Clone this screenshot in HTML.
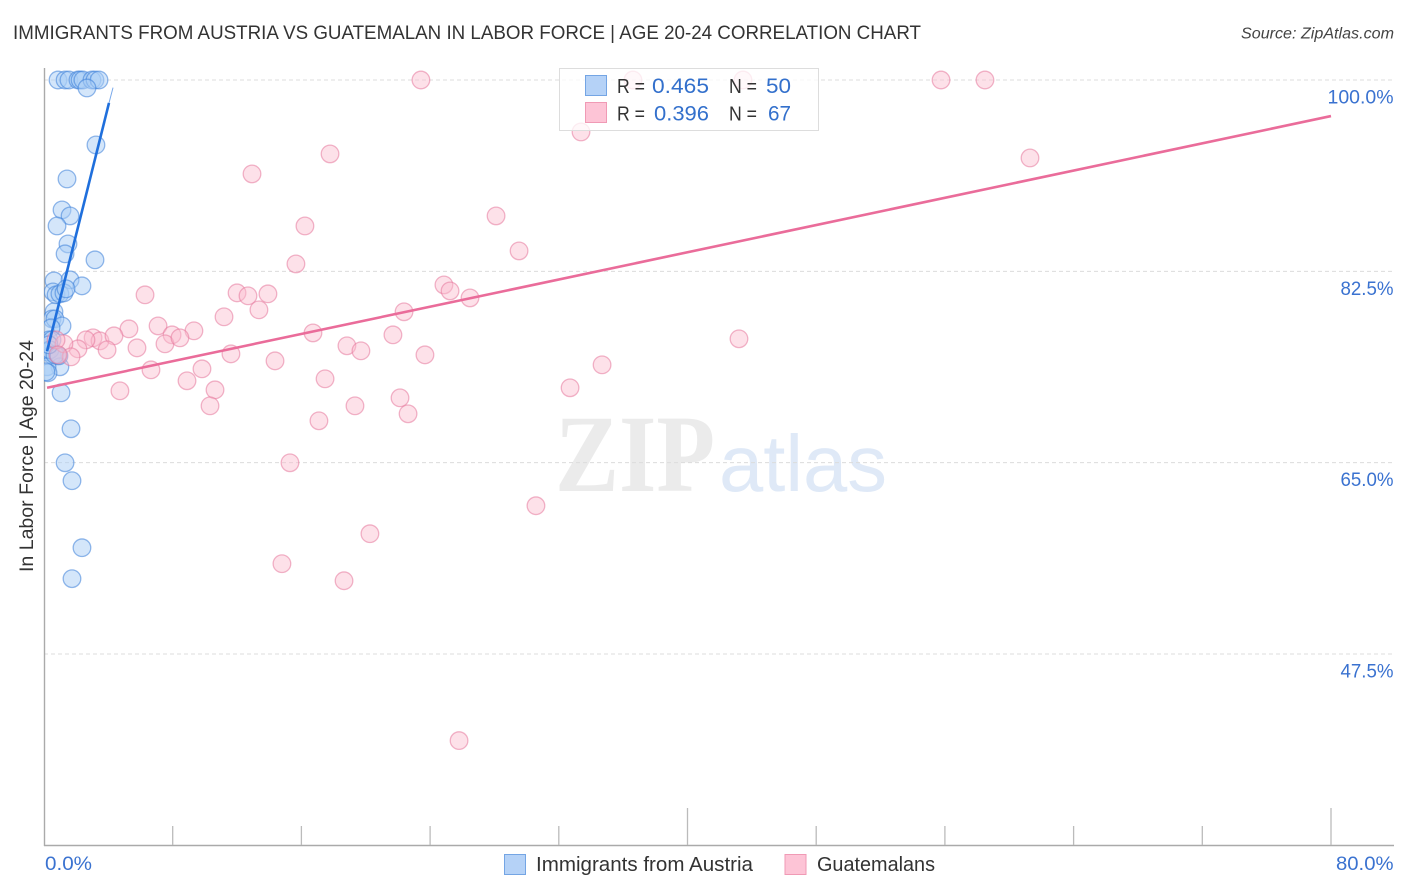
<!DOCTYPE html>
<html lang="en">
<head>
<meta charset="utf-8">
<title>Immigrants from Austria vs Guatemalan in Labor Force Correlation Chart</title>
<style>
html,body{margin:0;padding:0;background:#fff;width:1406px;height:892px;overflow:hidden}
svg{display:block}
text{font-family:"Liberation Sans",sans-serif}
</style>
</head>
<body>
<svg id="chart" xmlns="http://www.w3.org/2000/svg" width="1406" height="892" viewBox="0 0 1406 892">
  <defs><clipPath id="plot-clip"><rect x="44" y="60" width="1350" height="786"/></clipPath></defs>
  <text x="13" y="39" font-size="19.5" fill="#333" textLength="908" lengthAdjust="spacingAndGlyphs">IMMIGRANTS FROM AUSTRIA VS GUATEMALAN IN LABOR FORCE | AGE 20-24 CORRELATION CHART</text>
  <text x="1241" y="38.5" font-size="15.5" font-style="italic" fill="#444" textLength="153" lengthAdjust="spacingAndGlyphs">Source: ZipAtlas.com</text>
  <g>
    <text x="555" y="491" font-size="110" font-weight="bold" fill="#ebebeb" textLength="160" lengthAdjust="spacingAndGlyphs" style="font-family:'Liberation Serif',serif">ZIP</text>
    <text x="719" y="491" font-size="80" fill="#dfe9f7" textLength="168" lengthAdjust="spacingAndGlyphs">atlas</text>
  </g>
  <g id="grid"></g>
  <g id="axes"></g>
  <g id="blue-points" clip-path="url(#plot-clip)"></g>
  <g id="pink-points" clip-path="url(#plot-clip)"></g>
  <g id="trends"></g>
  <g id="ylabels"></g>
  <g id="xlabels"></g>
  <text transform="translate(33,456) rotate(-90)" text-anchor="middle" font-size="19" fill="#333" textLength="232" lengthAdjust="spacingAndGlyphs">In Labor Force | Age 20-24</text>

  <g>
    <rect x="559.5" y="68.5" width="259" height="62" fill="#fff" fill-opacity="0.76" stroke="#ddd" stroke-width="1"/>
    <rect x="585.5" y="75.5" width="21" height="20" fill="#b5d2f7" stroke="#74a5e4" stroke-width="1"/>
    <rect x="585.5" y="102.5" width="21" height="20" fill="#fdc4d6" stroke="#f09ab5" stroke-width="1"/>
    <text x="617" y="93" font-size="20" fill="#333" textLength="28" lengthAdjust="spacingAndGlyphs">R =</text>
    <text x="652" y="93" font-size="21" fill="#3370cc" textLength="57" lengthAdjust="spacingAndGlyphs">0.465</text>
    <text x="729" y="93" font-size="20" fill="#333" textLength="28" lengthAdjust="spacingAndGlyphs">N =</text>
    <text x="766" y="93" font-size="21" fill="#3370cc" textLength="25" lengthAdjust="spacingAndGlyphs">50</text>
    <text x="617" y="120.5" font-size="20" fill="#333" textLength="28" lengthAdjust="spacingAndGlyphs">R =</text>
    <text x="654" y="120.5" font-size="21" fill="#3370cc" textLength="55" lengthAdjust="spacingAndGlyphs">0.396</text>
    <text x="729" y="120.5" font-size="20" fill="#333" textLength="28" lengthAdjust="spacingAndGlyphs">N =</text>
    <text x="768" y="120.5" font-size="21" fill="#3370cc" textLength="23" lengthAdjust="spacingAndGlyphs">67</text>
  </g>

  <g>
    <rect x="504.5" y="854.5" width="21" height="20" fill="#b5d2f7" stroke="#74a5e4" stroke-width="1"/>
    <text x="536" y="871" font-size="20" fill="#333" textLength="217" lengthAdjust="spacingAndGlyphs">Immigrants from Austria</text>
    <rect x="785" y="854.5" width="21" height="20" fill="#fdc4d6" stroke="#f09ab5" stroke-width="1"/>
    <text x="817" y="871" font-size="20" fill="#333" textLength="118" lengthAdjust="spacingAndGlyphs">Guatemalans</text>
  </g>
</svg>
<script>
var yTickValues = [100, 82.5, 65, 47.5];
var yTickLabels = ["100.0%", "82.5%", "65.0%", "47.5%"];
var xTickValues = [0, 8, 16, 24, 32, 40, 48, 56, 64, 72, 80];
var xTickMajor = [40, 80];
var xEndValues = [0, 80];
var xEndLabels = ["0.0%", "80.0%"];

var austriaX = [0.87,1.31,1.55,2.11,2.24,2.42,2.98,3.17,3.42,2.67,3.23,1.43,1.12,1.62,0.81,1.49,1.31,3.17,0.62,1.62,2.36,0.56,0.75,0.99,1.24,1.37,0.62,0.5,0.68,1.12,0.44,0.31,0.5,0.19,0.5,0.81,0.99,0.19,0.25,1.06,1.68,1.31,1.74,2.36,1.74,0.37,0.68,0.93,0.12,0.31];
var austriaY = [100,100,100,100,100,100,100,100,100,99.27,94.06,90.95,88.12,87.57,86.65,85.01,84.1,83.55,81.63,81.72,81.17,80.62,80.35,80.44,80.53,80.9,78.8,78.15,78.15,77.51,77.33,76.23,76.23,75.14,74.86,74.77,73.77,73.77,73.22,71.39,68.1,64.99,63.35,57.22,54.39,75.32,74.86,74.77,73.31,75.78];

var guatemalanX = [23.43,36.61,43.45,55.76,58.49,33.38,17.78,61.29,12.93,28.1,16.22,29.53,15.66,24.86,25.24,26.48,6.28,12,12.68,13.92,13.36,11.19,22.38,5.28,7.09,7.96,9.32,16.72,21.69,43.2,7.52,8.45,18.83,19.7,23.68,11.62,3.05,3.48,2.61,4.35,2.11,3.92,5.78,1.24,0.75,1.68,0.87,14.36,34.69,6.65,9.82,17.47,8.89,32.7,4.72,10.63,22.13,10.32,19.33,22.63,17.09,15.29,30.58,20.26,14.79,18.65,25.8];
var guatemalanY = [100,100,100,100,100,95.25,93.24,92.87,91.41,87.57,86.65,84.37,83.18,81.26,80.71,80.07,80.35,80.53,80.26,80.44,78.98,78.34,78.8,77.24,77.51,76.69,77.06,76.87,76.69,76.33,75.87,76.42,75.69,75.23,74.86,74.95,76.42,76.14,76.23,76.6,75.41,75.32,75.5,75.87,76.23,74.68,74.86,74.31,73.95,73.49,73.58,72.67,72.49,71.85,71.57,71.66,70.93,70.2,70.2,69.47,68.83,64.99,61.06,58.5,55.76,54.2,39.58];

var austriaTrendX = [0.19, 4.04];
var austriaTrendY = [75.2, 97.9];
var austriaTrendExtX = [4.04, 4.29];
var austriaTrendExtY = [97.9, 99.3];
var guatemalanTrendX = [0.19, 80];
var guatemalanTrendY = [71.85, 96.7];

var NS = "http://www.w3.org/2000/svg";
function sx(v) { return 44 + v * (1331 - 44) / 80; }
function sy(v) { return 80 + (100 - v) * (654 - 80) / 52.5; }
function make(tag, parentId, props, text) {
  var el = document.createElementNS(NS, tag);
  for (var k in props) el.setAttribute(k, props[k]);
  if (text !== undefined) el.textContent = text;
  document.getElementById(parentId).appendChild(el);
  return el;
}

yTickValues.forEach(function (v, i) {
  var line = make("line", "grid", {x1: 44, x2: 1393, y1: sy(v), y2: sy(v), stroke: "#dcdcdc", "stroke-width": 1, "stroke-dasharray": "4 3"});
  
  
  var lab = make("text", "ylabels", {x: 1393.5, y: sy(v) + 23.5, "text-anchor": "end", "font-size": 19.5, fill: "#3a72d0", textLength: i === 0 ? 66 : 53, lengthAdjust: "spacingAndGlyphs"}, yTickLabels[i]);
  
  
});

var leftAxis = make("line", "axes", {x1: 44.5, x2: 44.5, y1: 68, y2: 846, stroke: "#aaa", "stroke-width": 1.4});


var bottomAxis = make("line", "axes", {x1: 44, x2: 1394, y1: 845.5, y2: 845.5, stroke: "#aaa", "stroke-width": 1.4});



xTickValues.forEach(function (v) {
  if (v === 0) return;
  var tall = xTickMajor.indexOf(v) >= 0;
  var tick = make("line", "axes", {x1: sx(v), x2: sx(v), y1: tall ? 808 : 826, y2: 845, stroke: "#bbb", "stroke-width": 1.3});
  
  
});

xEndValues.forEach(function (v, i) {
  var lab = make("text", "xlabels", {x: i === 0 ? 45 : 1336, y: 870, "font-size": 19.5, fill: "#3a72d0", textLength: i === 0 ? 47 : 57.5, lengthAdjust: "spacingAndGlyphs"}, xEndLabels[i]);
  
  
});

austriaX.forEach(function (v, i) {
  var c = make("circle", "blue-points", {cx: sx(v), cy: sy(austriaY[i]), r: 8.8, fill: "#a9cdf6", "fill-opacity": 0.5, stroke: "#3d80d8", "stroke-opacity": 0.55, "stroke-width": 1.3});
  
  
});

guatemalanX.forEach(function (v, i) {
  var c = make("circle", "pink-points", {cx: sx(v), cy: sy(guatemalanY[i]), r: 8.8, fill: "#fbbccf", "fill-opacity": 0.45, stroke: "#e6799c", "stroke-opacity": 0.55, "stroke-width": 1.3});
  
  
});

var blueExt = make("line", "trends", {x1: sx(austriaTrendExtX[0]), y1: sy(austriaTrendExtY[0]), x2: sx(austriaTrendExtX[1]), y2: sy(austriaTrendExtY[1]), stroke: "#1f6fdc", "stroke-width": 1, "stroke-opacity": 0.6});


var blueLine = make("line", "trends", {x1: sx(austriaTrendX[0]), y1: sy(austriaTrendY[0]), x2: sx(austriaTrendX[1]), y2: sy(austriaTrendY[1]), stroke: "#1f6fdc", "stroke-width": 2.6});


var pinkLine = make("line", "trends", {x1: sx(guatemalanTrendX[0]), y1: sy(guatemalanTrendY[0]), x2: sx(guatemalanTrendX[1]), y2: sy(guatemalanTrendY[1]), stroke: "#ea6c9a", "stroke-width": 2.6});


</script>
</body>
</html>
